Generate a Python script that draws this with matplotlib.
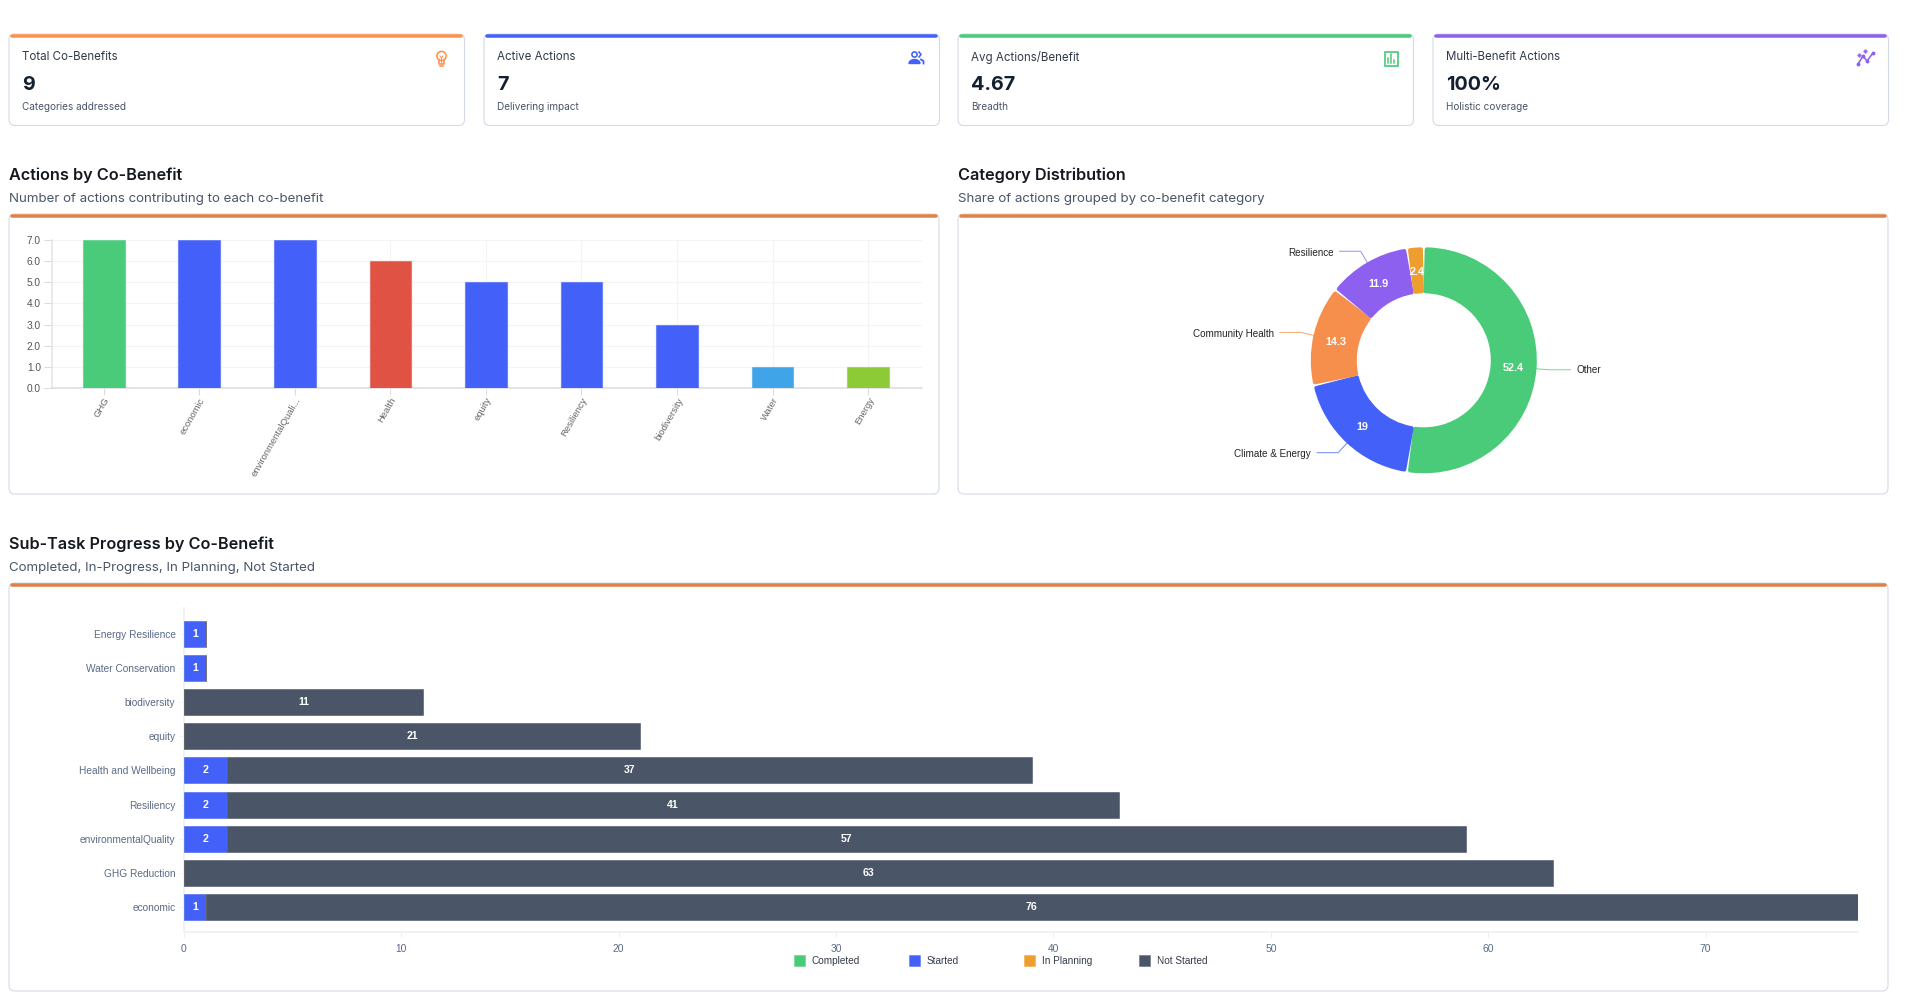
import numpy as np
import matplotlib
matplotlib.use('Agg')
import matplotlib.pyplot as plt
from matplotlib.patches import FancyBboxPatch, Rectangle, Circle

W, H = 1906, 1005
PX = 0.72  # one pixel in points at dpi 100

UI_FONT = 'Inter'
CHART_FONT = 'Liberation Sans'

# kpi cards
card_titles = ['Total Co-Benefits', 'Active Actions', 'Avg Actions/Benefit', 'Multi-Benefit Actions']
card_values = ['9', '7', '4.67', '100%']
card_notes = ['Categories addressed', 'Delivering impact', 'Breadth', 'Holistic coverage']
card_colors = ['#FF914D', '#4361F8', '#4ACB79', '#8E60F0']
card_lefts = [9, 484, 958, 1433]

# bar chart
bar_labels = ['GHG', 'economic', 'environmentalQuali...', 'Health', 'equity', 'Resiliency', 'biodiversity', 'Water', 'Energy']
bar_values = [7, 7, 7, 6, 5, 5, 3, 1, 1]
bar_colors = ['#4ACB79', '#4361F8', '#4361F8', '#E05243', '#4361F8', '#4361F8', '#4361F8', '#3FA4E8', '#8CCB36']
bar_ticks = [0, 1, 2, 3, 4, 5, 6, 7]

# donut
pie_labels = ['Other', 'Climate & Energy', 'Community Health', 'Resilience', '']
pie_values = [52.4, 19, 14.3, 11.9, 2.4]
pie_text = ['52.4', '19', '14.3', '11.9', '2.4']
pie_colors = ['#4ACB79', '#4361F8', '#F68E4C', '#8E60F0', '#EE9E2E']

# stacked bars, bottom row first
task_labels = ['economic', 'GHG Reduction', 'environmentalQuality', 'Resiliency', 'Health and Wellbeing',
               'equity', 'biodiversity', 'Water Conservation', 'Energy Resilience']
completed = [0, 0, 0, 0, 0, 0, 0, 0, 0]
started = [1, 0, 2, 2, 2, 0, 0, 1, 1]
in_planning = [0, 0, 0, 0, 0, 0, 0, 0, 0]
not_started = [76, 63, 57, 41, 37, 21, 11, 0, 0]
task_ticks = [0, 10, 20, 30, 40, 50, 60, 70]
legend_names = ['Completed', 'Started', 'In Planning', 'Not Started']
legend_colors = ['#4ACB79', '#4361F8', '#EE9E2E', '#4A5568']
legend_lefts = [794, 909, 1024, 1139]


def axes_px(fig, x0, y0, x1, y1):
    # axes placed with the pixel box of the screenshot
    return fig.add_axes([x0/W, 1 - y1/H, (x1 - x0)/W, (y1 - y0)/H])


def panel(bg, x0, y0, x1, y1, color, band=3.5):
    bg.add_patch(FancyBboxPatch((x0 + 6, y0 + 6), x1 - x0 - 12, y1 - y0 - 12,
                                boxstyle='round,pad=6,rounding_size=6',
                                fc='white', ec='#D3DAE6', lw=1.1*PX, zorder=1))
    bg.plot([x0 + 3, x1 - 3], [y0 + 1.5, y0 + 1.5], color=color, lw=band*PX, solid_capstyle='round', zorder=2)


def heading(bg, x, y, title, sub):
    bg.text(x, y, title, fontsize=11.7, fontweight='semibold', color='#14181F', va='center', family=UI_FONT)
    bg.text(x, y + 23.5, sub, fontsize=9.6, color='#4A5568', va='center', family=UI_FONT)


def icon_bulb(bg, cx, cy, c):
    bg.add_patch(Circle((cx, cy - 2), 4.6, fc='none', ec=c, lw=1.6*PX, zorder=3))
    bg.plot([cx - 2.4, cx - 2.4, cx + 2.4, cx + 2.4], [cy + 2, cy + 6, cy + 6, cy + 2], color=c, lw=1.6*PX, zorder=3)
    bg.plot([cx - 1.8, cx + 1.8], [cy + 7.5, cy + 7.5], color=c, lw=1.6*PX, zorder=3)
    bg.plot([cx - 1.5, cx, cx + 1.5], [cy - 2, cy, cy - 2], color=c, lw=1*PX, zorder=3)
    bg.plot([cx, cx], [cy, cy + 5], color=c, lw=1*PX, zorder=3)


def icon_people(bg, cx, cy, c):
    bg.add_patch(Circle((cx - 2, cy - 3.5), 2.6, fc='none', ec=c, lw=1.6*PX, zorder=3))
    bg.plot([cx + 2.5, cx + 4.5, cx + 2.5], [cy - 6, cy - 3.5, cy - 1], color=c, lw=1.6*PX, zorder=3)
    th = np.linspace(np.pi, 2*np.pi, 20)
    bg.fill(cx - 2 + 5.5*np.cos(th), cy + 5.5 + 4*np.sin(th), color=c, zorder=3)
    bg.plot([cx + 4.5, cx + 7, cx + 7], [cy + 1.5, cy + 3, cy + 5.5], color=c, lw=1.8*PX, zorder=3)


def icon_chart(bg, cx, cy, c):
    bg.add_patch(Rectangle((cx - 6.5, cy - 6.5), 13, 14, fc='none', ec=c, lw=1.7*PX, zorder=3))
    for dx, top in zip([-3, 0, 3], [0, -4, 2]):
        bg.plot([cx + dx, cx + dx], [cy + top, cy + 5], color=c, lw=1.5*PX, zorder=3)


def icon_trend(bg, cx, cy, c):
    bg.plot([cx - 8, cx - 3, cx + 1, cx + 7], [cy + 6, cy - 2, cy + 3, cy - 5], color=c, lw=1.6*PX,
            marker='o', ms=2.5*PX, zorder=3)
    bg.plot([cx - 7, cx - 1], [cy - 3, cy - 7], ls='none', marker='P', ms=3*PX, color=c, alpha=0.8, zorder=3)


fig = plt.figure(figsize=(W/100, H/100), dpi=100, facecolor='white')
bg = axes_px(fig, 0, 0, W, H)
bg.set_xlim(0, W)
bg.set_ylim(H, 0)
bg.axis('off')

icons = [icon_bulb, icon_people, icon_chart, icon_trend]
icon_x = [441.5, 916.5, 1391.5, 1866]
for i in range(4):
    x0 = card_lefts[i]
    panel(bg, x0, 34, x0 + 455.5, 125.5, card_colors[i])
    bg.text(x0 + 13.5, 57, card_titles[i], fontsize=8.3, color='#333B48', va='center', family=UI_FONT)
    bg.text(x0 + 13.5, 85, card_values[i], fontsize=14.2, fontweight='bold', color='#14202F', va='center', family=UI_FONT)
    bg.text(x0 + 13.5, 106.5, card_notes[i], fontsize=7.2, color='#4A5568', va='center', family=UI_FONT)
    icons[i](bg, icon_x[i], 58, card_colors[i])

panel(bg, 9, 214, 939, 494, '#E08248')
panel(bg, 958, 214, 1888, 494, '#E08248')
panel(bg, 9, 583, 1888, 991, '#E08248')
heading(bg, 9, 175, 'Actions by Co-Benefit', 'Number of actions contributing to each co-benefit')
heading(bg, 958, 175, 'Category Distribution', 'Share of actions grouped by co-benefit category')
heading(bg, 9, 544, 'Sub-Task Progress by Co-Benefit', 'Completed, In-Progress, In Planning, Not Started')

# vertical bars
ax = axes_px(fig, 51.7, 239.7, 921.7, 388.3)
ax.patch.set_alpha(0)
xpos = np.arange(len(bar_values))
for x, v, c in zip(xpos, bar_values, bar_colors):
    ax.bar(x, v, width=0.436, color=c, edgecolor=matplotlib.colors.to_rgba(c, 0.55), linewidth=1.2*PX, zorder=3)
ax.set_xlim(-0.544, 8.56)
ax.set_ylim(0, 7)
ax.set_yticks(bar_ticks)
ax.set_yticklabels(['%.1f' % t for t in bar_ticks])
ax.set_xticks(xpos)
ax.set_xticklabels(bar_labels, rotation=60, ha='right', va='top', rotation_mode='anchor')
ax.grid(True, color='#F3F4F6', lw=1.1*PX, zorder=0)
for s in ['top', 'right']:
    ax.spines[s].set_visible(False)
ax.spines['left'].set_color('#E3E4E8')
ax.spines['left'].set_linewidth(1.5*PX)
ax.spines['bottom'].set_color('#DADBDF')
ax.spines['bottom'].set_linewidth(1.5*PX)
ax.tick_params(axis='y', length=8*PX, width=1*PX, color='#DADBDF', labelsize=7.3, labelcolor='#555555', pad=2)
ax.tick_params(axis='x', length=7*PX, width=1*PX, color='#DADBDF', labelsize=6.8, labelcolor='#666666', pad=0.5)
ax.set_axisbelow(True)

# donut, 113 px outer radius
cx, cy, R = 1423.8, 360.3, 113.0
half = 190
dn = axes_px(fig, cx - half, cy - half, cx + half, cy + half)
wedges, _ = dn.pie(pie_values, colors=pie_colors, startangle=90, counterclock=False, radius=(R - 2)/R,
                   wedgeprops=dict(width=(113 - 67 - 4)/R, linewidth=4*PX, joinstyle='round'))
for w, c in zip(wedges, pie_colors):
    w.set_edgecolor(c)
    w.set_theta1(w.theta1 + 1.5)
    w.set_theta2(w.theta2 - 1.5)
dn.set_xlim(-half/R, half/R)
dn.set_ylim(-half/R, half/R)
dn.set_aspect('equal')
dn.patch.set_alpha(0)
dn.axis('off')
angle = 90.0
for v, name, txt, c in zip(pie_values, pie_labels, pie_text, pie_colors):
    mid = np.radians(angle - v*3.6/2)
    angle -= v*3.6
    ux, uy = np.cos(mid), np.sin(mid)
    dn.text(0.7965*ux, 0.7965*uy - 1.2/R, txt, color='white', fontsize=7.8, fontweight='bold', ha='center', va='center',
            family=CHART_FONT, zorder=5)
    if name:
        side = 1 if ux > 0 else -1
        ex, ey = (1 + 13/R)*ux, (1 + 13/R)*uy
        dn.plot([ux, ex, ex + side*21/R], [uy, ey, ey], color=c, lw=1*PX, alpha=0.75, zorder=1)
        dn.text(ex + side*27/R, ey - (1.5/R if side < 0 else 0), name, fontsize=7.15, color='#222222', va='center',
                ha='left' if side > 0 else 'right', family=CHART_FONT)

# stacked horizontal bars
hb = axes_px(fig, 184, 608, 1857.7, 932.3)
hb.patch.set_alpha(0)
ypos = np.arange(len(task_labels))
left = np.zeros(len(task_labels))
for name, vals, c in zip(legend_names, [completed, started, in_planning, not_started], legend_colors):
    vals = np.array(vals)
    bars = hb.barh(ypos, vals, height=0.76, left=left, color=c, edgecolor=matplotlib.colors.to_rgba(c, 0.55),
                   linewidth=1*PX, zorder=3)
    for b, v in zip(bars, vals):
        if v > 0:
            hb.text(b.get_x() + b.get_width()/2, b.get_y() + b.get_height()/2, str(v), color='white', fontsize=7.6,
                    fontweight='bold', ha='center', va='center', family=CHART_FONT, zorder=5)
    left = left + vals
hb.set_xlim(0, 77)
hb.set_ylim(-0.73, 8.75)
hb.set_yticks(ypos)
hb.set_yticklabels(task_labels)
hb.set_xticks(task_ticks)
for s in ['top', 'right']:
    hb.spines[s].set_visible(False)
hb.spines['left'].set_color('#F1F2F7')
hb.spines['left'].set_linewidth(2*PX)
hb.spines['bottom'].set_color('#F1F2F7')
hb.spines['bottom'].set_linewidth(2*PX)
hb.tick_params(axis='y', length=5*PX, width=1*PX, color='#F1F2F7', labelsize=7.3, labelcolor='#5A6A85', pad=2.5)
hb.tick_params(axis='x', length=5*PX, width=1*PX, color='#ECEDF2', labelsize=7.4, labelcolor='#5A6A85', pad=5)

# legend
for x, name, c in zip(legend_lefts, legend_names, legend_colors):
    bg.add_patch(Rectangle((x, 955), 11, 11, fc=c, ec=matplotlib.colors.to_rgba(c, 0.4), lw=1*PX, zorder=3))
    bg.text(x + 18, 961, name, fontsize=7.2, color='#333B48', va='center', family=CHART_FONT)

for a in [ax, hb]:
    for t in a.get_xticklabels() + a.get_yticklabels():
        t.set_family(CHART_FONT)

fig.savefig('out.png', dpi=100)
